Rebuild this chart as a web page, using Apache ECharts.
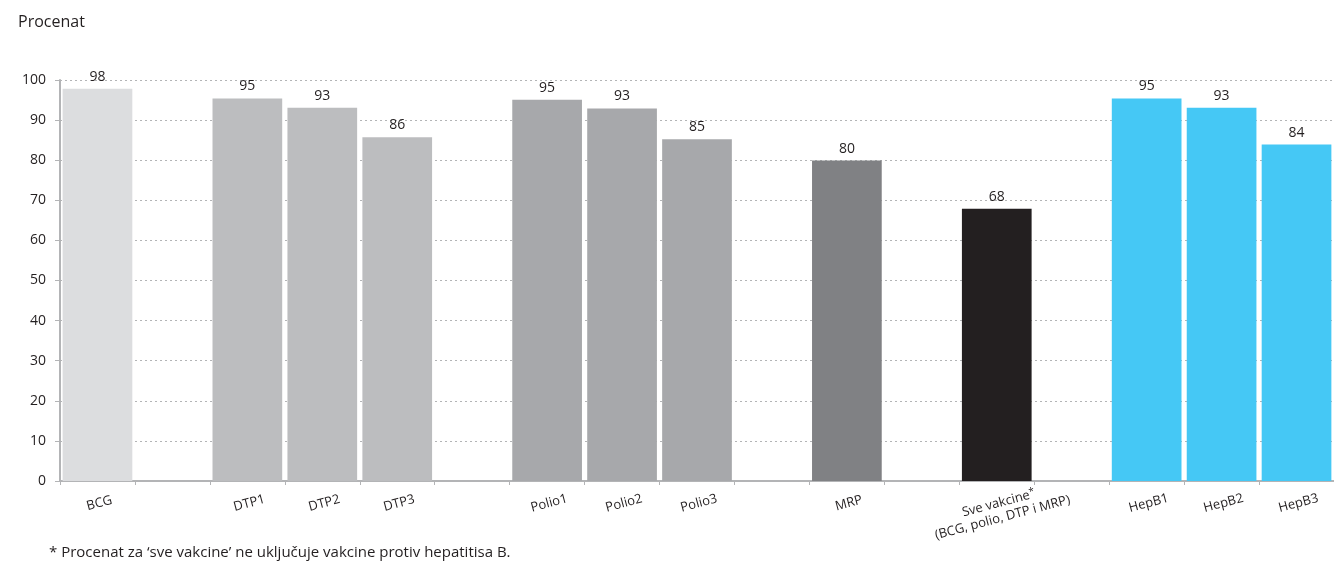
<!DOCTYPE html>
<html>
<head>
<meta charset="utf-8">
<script src="https://cdn.jsdelivr.net/npm/echarts@6/dist/echarts.min.js"></script>
<style>html,body{margin:0;padding:0;background:#fff;}#c{width:1334px;height:569px;}</style>
</head>
<body>
<div id="c"></div>
<script>
const categories = ['BCG', '', 'DTP1', 'DTP2', 'DTP3', '', 'Polio1', 'Polio2', 'Polio3', '', 'MRP', '', 'Sve vakcine*\n(BCG, polio, DTP i MRP)', '', 'HepB1', 'HepB2', 'HepB3'];
const values = [97.8, null, 95.4, 93.1, 85.7, null, 95.1, 92.9, 85.2, null, 79.9, null, 67.9, null, 95.4, 93.1, 83.9];
const groups = ['bcg', null, 'dtp', 'dtp', 'dtp', null, 'polio', 'polio', 'polio', null, 'mrp', null, 'sve', null, 'hepb', 'hepb', 'hepb'];
const yTicks = [0, 10, 20, 30, 40, 50, 60, 70, 80, 90, 100];

const groupColors = { bcg: '#dcdddf', dtp: '#bcbdbf', polio: '#a7a8ab', mrp: '#808184', sve: '#231f20', hepb: '#45c8f5' };
const FONT = 'Open Sans';
const TXT = '#231f20';

const chart = echarts.init(document.getElementById('c'), null, { renderer: 'canvas' });
chart.setOption({
  animation: false,
  textStyle: { fontFamily: FONT },
  grid: { left: 60, right: 0, top: 80, bottom: 88, containLabel: false },
  graphic: [
    { type: 'text', left: 18, top: 14, style: { text: 'Procenat', fontSize: 16, fontFamily: FONT, fill: TXT } },
    { type: 'text', left: 49, top: 545, style: { text: '* Procenat za \u2018sve vakcine\u2019 ne uklju\u010duje vakcine protiv hepatitisa B.', fontSize: 15, fontFamily: FONT, fill: TXT } }
  ],
  xAxis: {
    type: 'category',
    data: categories,
    boundaryGap: true,
    axisLine: { lineStyle: { color: '#b3b4b6', width: 2 } },
    axisTick: { show: true, length: 4, lineStyle: { color: '#b3b4b6', width: 1 }, alignWithLabel: false, interval: 0 },
    axisLabel: {
      interval: 0, rotate: 15, align: 'center', verticalAlign: 'top', margin: 15,
      color: TXT, fontSize: 13, fontFamily: FONT, lineHeight: 15,
      formatter: function (v) {
        if (v.indexOf('*') >= 0) {
          const parts = v.split('\n');
          return '{a|' + parts[0].replace('*', '') + '}{s|*}\n{a|' + parts[1] + '}';
        }
        return v;
      },
      rich: {
        a: { fontSize: 13, fontFamily: FONT, color: TXT, lineHeight: 15 },
        s: { fontSize: 10, fontFamily: FONT, color: TXT, verticalAlign: 'top', lineHeight: 15, padding: [0, 0, 7, 0] }
      }
    },
    splitLine: { show: false }
  },
  yAxis: {
    type: 'value', min: 0, max: 100, interval: 10,
    axisLine: { show: true, lineStyle: { color: '#b3b4b6', width: 2 } },
    axisTick: { show: true, length: 5, lineStyle: { color: '#b3b4b6' } },
    axisLabel: { color: TXT, fontSize: 14, fontFamily: FONT, margin: 14,
      formatter: function (v) { return yTicks.indexOf(v) >= 0 ? String(v) : ''; } },
    splitLine: { show: true, lineStyle: { color: '#b3b4b6', type: [2, 3], width: 1 } }
  },
  series: [{
    type: 'bar',
    barCategoryGap: '7%',
    data: values.map(function (v, i) {
      return v === null ? '-' : { value: v, itemStyle: { color: groupColors[groups[i]] } };
    }),
    label: {
      show: true, position: 'top', distance: 5, color: TXT, fontSize: 14, fontFamily: FONT,
      formatter: function (p) { return Math.round(p.value); }
    }
  }]
});
</script>
</body>
</html>
